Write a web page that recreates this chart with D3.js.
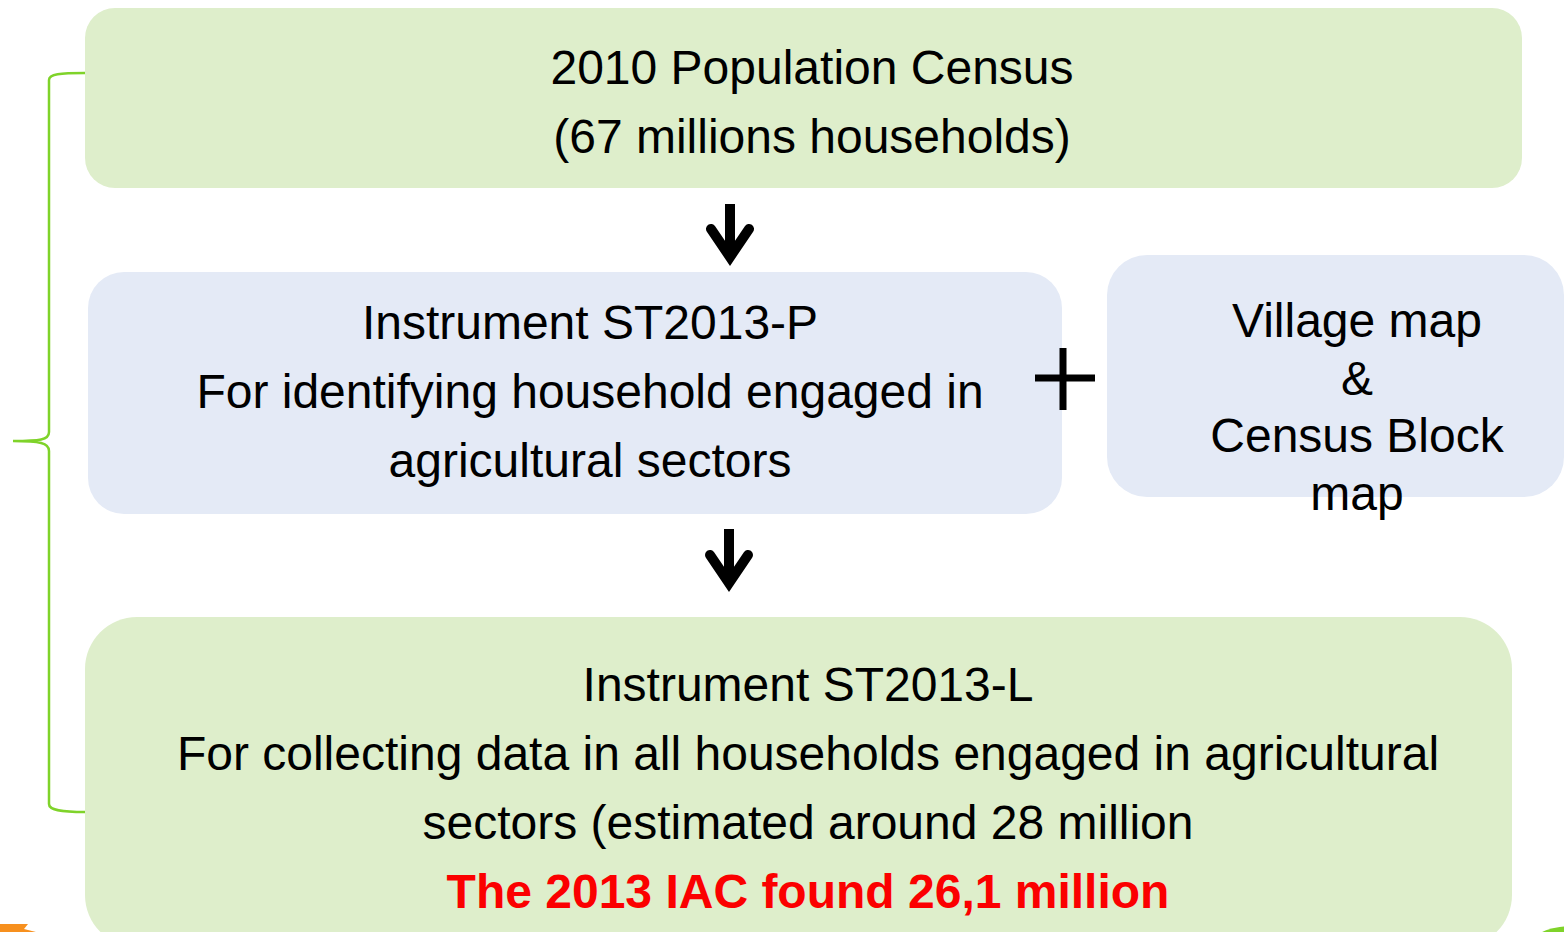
<!DOCTYPE html>
<meta charset="utf-8">
<style>
body { margin: 0; background: #fff; }
text { font-family: "Liberation Sans", Arial, sans-serif; fill: #000; }
</style>
<body>
<script src="https://cdn.jsdelivr.net/npm/d3@7"></script>
<script>
var width = 1564, height = 932;

// text content of each box
var censusLines = ["2010 Population Census", "(67 millions households)"];
var listingLines = ["Instrument ST2013-P", "For identifying household engaged in", "agricultural sectors"];
var mapLines = ["Village map", "&", "Census Block", "map"];
var surveyLines = ["Instrument ST2013-L", "For collecting data in all households engaged in agricultural", "sectors (estimated around 28 million"];
var resultLine = "The 2013 IAC found 26,1 million";

var green = "#deeecb", blue = "#e4eaf6", brace = "#7fd32a";

var svg = d3.select("body").append("svg")
    .attr("width", width)
    .attr("height", height);

// boxes
var boxes = [
  {x: 85, y: 8, w: 1437, h: 180, r: 30, fill: green, lines: censusLines, cx: 812, y0: 67, step: 69},
  {x: 88, y: 272, w: 974, h: 242, r: 36, fill: blue, lines: listingLines, cx: 590, y0: 322, step: 69},
  {x: 1107, y: 255, w: 457, h: 242, r: 40, fill: blue, lines: mapLines, cx: 1357, y0: 320, step: 57.5},
  {x: 85, y: 617, w: 1427, h: 330, r: 52, fill: green, lines: surveyLines, cx: 808, y0: 684, step: 69}
];

var g = svg.selectAll("g.box")
  .data(boxes)
  .enter().append("g")
    .attr("class", "box");

g.append("rect")
    .attr("x", function(d) { return d.x; })
    .attr("y", function(d) { return d.y; })
    .attr("width", function(d) { return d.w; })
    .attr("height", function(d) { return d.h; })
    .attr("rx", function(d) { return d.r; })
    .attr("fill", function(d) { return d.fill; });

g.each(function(d) {
  d3.select(this).selectAll("text")
    .data(d.lines)
    .enter().append("text")
      .attr("x", d.cx)
      .attr("y", function(t, i) { return d.y0 + i * d.step; })
      .attr("dy", "0.36em")
      .attr("text-anchor", "middle")
      .attr("font-size", 48)
      .text(function(t) { return t; });
});

svg.append("text")
    .attr("x", 808)
    .attr("y", 891)
    .attr("dy", "0.36em")
    .attr("text-anchor", "middle")
    .attr("font-size", 48)
    .attr("font-weight", "bold")
    .style("fill", "#fb0000")
    .text(resultLine);

// down arrows
function arrow(x, top, tip) {
  var a = svg.append("g").attr("stroke", "#000").attr("fill", "none");
  a.append("line")
      .attr("x1", x).attr("x2", x)
      .attr("y1", top).attr("y2", tip - 10)
      .attr("stroke-width", 10);
  a.append("path")
      .attr("d", "M" + (x - 19) + "," + (tip - 34) + "L" + x + "," + (tip - 6) + "L" + (x + 19) + "," + (tip - 34))
      .attr("stroke-width", 10)
      .attr("stroke-linecap", "round")
      .attr("stroke-linejoin", "miter");
}
arrow(730, 204, 263);
arrow(729, 529, 589);

// plus sign
svg.append("path")
    .attr("d", "M1035,378H1095M1063,348V410")
    .attr("stroke", "#000")
    .attr("stroke-width", 7);

// left brace
svg.append("path")
    .attr("d", "M85,73 C60,73 49,74 49,80 L49,432 C49,440 40,441 13,441 C40,441 49,443 49,451 L49,804 C49,810 60,812 85,812")
    .attr("fill", "none")
    .attr("stroke", brace)
    .attr("stroke-width", 2.5);

// bits of neighbouring shapes at the bottom edge
svg.append("path")
    .attr("d", "M0,924 L28,924 L24,929 L36,932 L0,932 Z")
    .attr("fill", "#f7901e");
svg.append("ellipse")
    .attr("cx", 1575).attr("cy", 940)
    .attr("rx", 40).attr("ry", 14)
    .attr("fill", "#7fd32a");
</script>
</body>
